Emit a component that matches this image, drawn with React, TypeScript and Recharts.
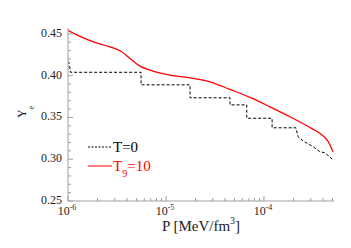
import React from 'react';
import { LineChart, Line, XAxis, YAxis, Legend } from 'recharts';

// T = 0 (dashed, stepwise)
const pressureT0 = [1.0e-6, 1.02e-6, 1.06e-6, 5.56e-6, 5.56e-6, 1.76e-5, 1.76e-5, 4.5e-5, 4.5e-5, 6.67e-5, 6.67e-5, 1.21e-4, 1.21e-4, 2.12e-4, 2.22e-4, 2.5e-4, 3.16e-4, 3.72e-4, 4.19e-4, 5.09e-4];
const yeT0 = [0.417, 0.416, 0.404, 0.404, 0.389, 0.389, 0.3735, 0.3735, 0.365, 0.365, 0.349, 0.349, 0.3376, 0.3376, 0.327, 0.322, 0.315, 0.309, 0.3077, 0.299];

// T9 = 10 (red, smooth)
const pressureT9 = [1.0e-6, 1.23e-6, 1.81e-6, 2.68e-6, 3.53e-6, 4.29e-6, 5.43e-6, 6.87e-6, 1.1e-5, 1.9e-5, 2.81e-5, 4.5e-5, 7.2e-5, 1.15e-4, 1.84e-4, 3.18e-4, 3.73e-4, 4.53e-4, 5.06e-4];
const yeT9 = [0.4544, 0.4488, 0.4404, 0.4345, 0.4285, 0.4206, 0.4114, 0.4066, 0.4006, 0.3967, 0.3926, 0.3835, 0.374, 0.3627, 0.3508, 0.3357, 0.3309, 0.3209, 0.3089];

const xMajorTicks = [1e-6, 1e-5, 1e-4];
const xMajorExponents = ['-6', '-5', '-4'];
const xAllTicks = [
  1e-6, 2e-6, 3e-6, 4e-6, 5e-6, 6e-6, 7e-6, 8e-6, 9e-6,
  1e-5, 2e-5, 3e-5, 4e-5, 5e-5, 6e-5, 7e-5, 8e-5, 9e-5,
  1e-4, 2e-4, 3e-4, 4e-4, 5e-4,
];
const yAllTicks = [0.25, 0.26, 0.27, 0.28, 0.29, 0.3, 0.31, 0.32, 0.33, 0.34, 0.35, 0.36, 0.37, 0.38, 0.39, 0.4, 0.41, 0.42, 0.43, 0.44, 0.45];
const yMajorLabels = ['0.25', '0.30', '0.35', '0.40', '0.45'];
const yMajorTicks = [0.25, 0.3, 0.35, 0.4, 0.45];

const xDomain = [1e-6, 5.18e-4];
const yDomain = [0.25, 0.457];

const t0Data = pressureT0.map((p, i) => ({ p, ye: yeT0[i] }));
const t9Data = pressureT9.map((p, i) => ({ p, ye: yeT9[i] }));

const AXIS = '#a0a0a0';
const TEXT = '#222';
const FONT = '"Liberation Serif", "Times New Roman", serif';

const xMajorIndex = (v: number) => xMajorTicks.findIndex((m) => Math.abs(v / m - 1) < 1e-6);
const yMajorIndex = (v: number) => yMajorTicks.findIndex((m) => Math.abs(v - m) < 1e-6);

const BottomTick = (props: any) => {
  const { x, y, payload } = props;
  const idx = xMajorIndex(payload.value);
  const major = idx >= 0;
  return (
    <g>
      <line x1={x} x2={x} y1={y} y2={y - (major ? 5 : 3)} stroke={AXIS} />
      {major && (
        <text x={x - 1} y={y + 14} textAnchor="middle" fontFamily={FONT} fontSize={12} fill={TEXT}>
          <tspan>10</tspan>
          <tspan dy={-5} fontSize={8}>{xMajorExponents[idx]}</tspan>
        </text>
      )}
    </g>
  );
};

const TopTick = (props: any) => {
  const { x, y, payload } = props;
  const major = xMajorIndex(payload.value) >= 0;
  return <line x1={x} x2={x} y1={y} y2={y + (major ? 5 : 3)} stroke={AXIS} />;
};

const LeftTick = (props: any) => {
  const { x, y, payload } = props;
  const idx = yMajorIndex(payload.value);
  const major = idx >= 0;
  return (
    <g>
      <line x1={x} x2={x + (major ? 5 : 3)} y1={y} y2={y} stroke={AXIS} />
      {major && (
        <text x={x - 6} y={y + 3} textAnchor="end" fontFamily={FONT} fontSize={12} fill={TEXT}>
          {yMajorLabels[idx]}
        </text>
      )}
    </g>
  );
};

const RightTick = (props: any) => {
  const { x, y, payload } = props;
  const major = yMajorIndex(payload.value) >= 0;
  return <line x1={x} x2={x - (major ? 5 : 3)} y1={y} y2={y} stroke={AXIS} />;
};

const XTitle = (props: any) => {
  const { viewBox } = props;
  const cx = viewBox.x + viewBox.width / 2;
  return (
    <text x={cx} y={viewBox.y + 30} textAnchor="middle" fontFamily={FONT} fontSize={15} fill={TEXT}>
      <tspan>P [MeV/fm</tspan>
      <tspan dy={-7} fontSize={10}>3</tspan>
      <tspan dy={7}>]</tspan>
    </text>
  );
};

const YTitle = () => (
  <text transform="translate(26,118) rotate(-90)" fontFamily={FONT} fontSize={12} fill={TEXT}>
    <tspan>Y</tspan>
    <tspan dy={8} fontSize={8}>e</tspan>
  </text>
);

const legendNames = ['T=0', 'T9=10'];

const LegendContent = (props: any) => {
  const payload = [...(props.payload || [])].sort(
    (a: any, b: any) => legendNames.indexOf(String(a.value)) - legendNames.indexOf(String(b.value))
  );
  return (
    <svg width={80} height={50} style={{ overflow: 'visible', display: 'block' }}>
      {payload.map((e: any, i: number) => {
        const yy = 9 + i * 19;
        const name = String(e.value);
        const isSub = name.startsWith('T9');
        const dashed = name === legendNames[0];
        return (
          <g key={name}>
            <line x1={0} x2={24} y1={yy} y2={yy} stroke={e.color} strokeWidth={1} strokeDasharray={dashed ? '2 1.5' : undefined} />
            <text x={25} y={yy + 5} fontFamily={FONT} fontSize={15} fill={dashed ? '#000' : e.color}>
              {isSub ? (
                <>
                  <tspan>T</tspan>
                  <tspan dy={6} fontSize={10}>9</tspan>
                  <tspan dy={-6}>{name.slice(2)}</tspan>
                </>
              ) : (
                name
              )}
            </text>
          </g>
        );
      })}
    </svg>
  );
};

export default function App() {
  return (
    <div style={{ position: 'absolute', left: 0, top: 0 }}>
      <LineChart width={351} height={248} margin={{ top: 28, right: 17, bottom: 0, left: 0 }}>
        <XAxis
          xAxisId="bottom"
          dataKey="p"
          type="number"
          scale="log"
          domain={xDomain}
          allowDataOverflow
          ticks={xAllTicks}
          interval={0}
          height={47}
          tickSize={0}
          tickMargin={0}
          tickLine={false}
          axisLine={{ stroke: AXIS }}
          tick={<BottomTick />}
          label={<XTitle />}
        />
        <XAxis
          xAxisId="top"
          orientation="top"
          dataKey="p"
          type="number"
          scale="log"
          domain={xDomain}
          allowDataOverflow
          ticks={xAllTicks}
          interval={0}
          height={0}
          tickSize={0}
          tickMargin={0}
          tickLine={false}
          axisLine={{ stroke: AXIS }}
          tick={<TopTick />}
        />
        <YAxis
          yAxisId="left"
          type="number"
          domain={yDomain}
          allowDataOverflow
          ticks={yAllTicks}
          interval={0}
          width={68}
          tickSize={0}
          tickMargin={0}
          tickLine={false}
          axisLine={{ stroke: AXIS }}
          tick={<LeftTick />}
          label={<YTitle />}
        />
        <YAxis
          yAxisId="right"
          orientation="right"
          type="number"
          domain={yDomain}
          allowDataOverflow
          ticks={yAllTicks}
          interval={0}
          width={0}
          tickSize={0}
          tickMargin={0}
          tickLine={false}
          axisLine={{ stroke: AXIS }}
          tick={<RightTick />}
        />
        <Legend
          layout="vertical"
          align="center"
          verticalAlign="middle"
          content={<LegendContent />}
          wrapperStyle={{ position: 'absolute', left: 88, top: 138, width: 80, height: 50 }}
        />
        <Line
          xAxisId="bottom"
          yAxisId="left"
          data={t0Data}
          dataKey="ye"
          name={legendNames[0]}
          type="linear"
          stroke="#000000"
          strokeWidth={1}
          strokeDasharray="3 2"
          dot={false}
          isAnimationActive={false}
        />
        <Line
          xAxisId="bottom"
          yAxisId="left"
          data={t9Data}
          dataKey="ye"
          name={legendNames[1]}
          type="monotone"
          stroke="#ff0000"
          strokeWidth={1.3}
          dot={false}
          isAnimationActive={false}
        />
      </LineChart>
    </div>
  );
}
